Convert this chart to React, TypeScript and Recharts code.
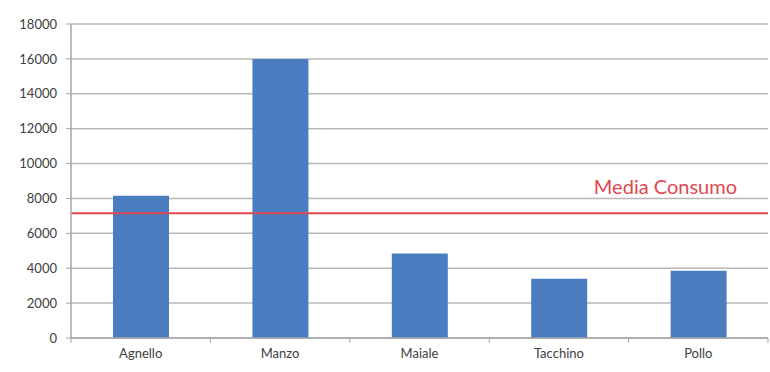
import React from 'react';
import {
  BarChart,
  Bar,
  XAxis,
  YAxis,
  CartesianGrid,
  ReferenceLine,
} from 'recharts';

// Consumo per tipo di carne
const categorie = ['Agnello', 'Manzo', 'Maiale', 'Tacchino', 'Pollo'];
const consumo = [8150, 16000, 4850, 3400, 3850];
const mediaConsumo = 7150;
const yTicks = [0, 2000, 4000, 6000, 8000, 10000, 12000, 14000, 16000, 18000];

const data = categorie.map((nome, i) => ({ nome, consumo: consumo[i] }));

const WIDTH = 770;
const HEIGHT = 372;
const MARGIN = { top: 24, right: 2, bottom: 0, left: 0 };
const Y_AXIS_W = 71;
const X_AXIS_H = 34;
const BAND = (WIDTH - MARGIN.left - MARGIN.right - Y_AXIS_W) / categorie.length;
const AXIS_Y = HEIGHT - MARGIN.bottom - X_AXIS_H;

const FONT = 'Lato, "Open Sans", sans-serif';
const AXIS_GRAY = '#a6a6a6';
const GRID_GRAY = '#b8b8b8';
const TEXT = '#404040';
const RED = '#e2474d';

function MediaLabel(props: any) {
  const { viewBox } = props;
  if (!viewBox) return null;
  return (
    <text
      x={viewBox.x + viewBox.width - 31}
      y={viewBox.y - 19}
      textAnchor="end"
      fill={RED}
      fontFamily={FONT}
      fontSize={20}
    >
      Media Consumo
    </text>
  );
}

// etichetta di categoria con tacche sui bordi della banda
function CategoriaTick(props: any) {
  const { x, y, payload, index } = props;
  const left = x - BAND / 2;
  const right = x + BAND / 2;
  return (
    <g>
      <line x1={left} x2={left} y1={AXIS_Y} y2={AXIS_Y + 5} stroke={AXIS_GRAY} />
      {index === categorie.length - 1 && (
        <line x1={right} x2={right} y1={AXIS_Y} y2={AXIS_Y + 5} stroke={AXIS_GRAY} />
      )}
      <text
        x={x}
        y={y}
        dy="0.71em"
        textAnchor="middle"
        fill={TEXT}
        fontSize={13}
        fontFamily={FONT}
      >
        {payload.value}
      </text>
    </g>
  );
}

export default function App() {
  return (
    <div style={{ position: 'absolute', left: 0, top: 0, width: WIDTH, height: HEIGHT, background: '#fff' }}>
      <BarChart width={WIDTH} height={HEIGHT} data={data} margin={MARGIN}>
        <CartesianGrid vertical={false} stroke={GRID_GRAY} strokeWidth={1.5} />
        <XAxis
          dataKey="nome"
          height={X_AXIS_H}
          interval={0}
          tickLine={false}
          tickSize={6}
          tickMargin={5}
          axisLine={{ stroke: AXIS_GRAY, strokeWidth: 1.5 }}
          tick={<CategoriaTick />}
        />
        <YAxis
          width={Y_AXIS_W}
          domain={[0, 18000]}
          ticks={yTicks}
          interval={0}
          tickSize={5}
          tickMargin={9}
          tickLine={{ stroke: AXIS_GRAY }}
          axisLine={{ stroke: AXIS_GRAY, strokeWidth: 1.5 }}
          tick={{ fill: TEXT, fontSize: 13, fontFamily: FONT }}
        />
        <Bar dataKey="consumo" fill="#4a7dc0" barSize={56} isAnimationActive={false} />
        <ReferenceLine
          y={mediaConsumo}
          stroke={RED}
          strokeWidth={2}
          label={<MediaLabel />}
        />
      </BarChart>
    </div>
  );
}
